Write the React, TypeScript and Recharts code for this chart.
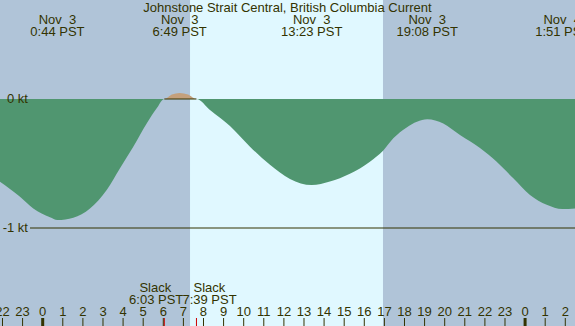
import React from 'react';
import { ComposedChart, Area, XAxis, YAxis, ReferenceArea, ReferenceLine } from 'recharts';

const TEXT = '#333300';
const FONT = '"Liberation Sans", Arial, sans-serif';
const FS = 13;

// hours relative to Nov 3 00:00 PST
const times = [-2.124, -1.129, -0.468, 0.363, 0.733, 1.522, 2.353, 3.184, 3.846, 4.507, 5.174, 5.672, 6.05, 6.43, 6.817, 7.23, 7.65, 8.323, 9.318, 10.313, 11.308, 12.303, 13.383, 14.289, 15.284, 16.279, 16.945, 17.443, 18.109, 19.133, 19.93, 20.761, 21.756, 22.587, 23.413, 24.244, 25.075, 25.85, 26.483];
const current = [-0.641, -0.757, -0.848, -0.917, -0.938, -0.92, -0.848, -0.705, -0.537, -0.37, -0.19, -0.072, 0, 0.035, 0.047, 0.035, 0, -0.085, -0.21, -0.37, -0.51, -0.62, -0.667, -0.64, -0.58, -0.486, -0.4, -0.305, -0.22, -0.157, -0.19, -0.28, -0.38, -0.486, -0.615, -0.744, -0.82, -0.853, -0.848];

const hourTicks = [-2, -1, 0, 1, 2, 3, 4, 5, 6, 7, 8, 9, 10, 11, 12, 13, 14, 15, 16, 17, 18, 19, 20, 21, 22, 23, 24, 25, 26];
const eventTimes = [0.733, 6.817, 13.383, 19.133, 25.85];
const eventDates = ['Nov  3', 'Nov  3', 'Nov  3', 'Nov  3', 'Nov  4'];
const eventLabels = ['0:44 PST', '6:49 PST', '13:23 PST', '19:08 PST', '1:51 PST'];
const slackTimes = [6.05, 7.65];
const slackLabels = ['6:03 PST', '7:39 PST'];
const sunrise = 7.33;
const sunset = 16.93;
const yTicks = [0, -1];
const yTickLabels = ['0 kt', '-1 kt'];

const data = times.map((t, i) => ({ t, ebb: Math.min(current[i], 0), flood: Math.max(current[i], 0) }));

const X_DOMAIN: [number, number] = [-2.124, 26.483];
const Y_DOMAIN: [number, number] = [-1.7597, 0.7674];

function HourTick(props: any) {
  const { x, payload } = props;
  const h = payload.value;
  const label = ((h % 24) + 24) % 24;
  return (
    <g>
      <text x={x} y={316} textAnchor="middle" fontSize={FS} fill={TEXT} fontFamily={FONT}>{label}</text>
      <line x1={x} x2={x} y1={318} y2={326} stroke={TEXT} strokeWidth={label === 0 ? 3 : 1} />
    </g>
  );
}

function TopTick(props: any) {
  const { x, index } = props;
  return (
    <g>
      <text x={x} y={24} textAnchor="middle" fontSize={FS} fill={TEXT} fontFamily={FONT} style={{ whiteSpace: 'pre' }}>{eventDates[index]}</text>
      <text x={x} y={36} textAnchor="middle" fontSize={FS} fill={TEXT} fontFamily={FONT}>{eventLabels[index]}</text>
    </g>
  );
}

function SlackTick(props: any) {
  const { x, index } = props;
  const first = index === 0;
  const tx = first ? x + 19 : x - 14;
  const anchor = first ? 'end' : 'start';
  const cx = first ? tx - 28 : tx + 27;
  return (
    <g>
      <text x={cx} y={292} textAnchor="middle" fontSize={FS} fill={TEXT} fontFamily={FONT}>Slack</text>
      <text x={tx} y={304} textAnchor={anchor} fontSize={FS} fill={TEXT} fontFamily={FONT}>{slackLabels[index]}</text>
      <line x1={x} x2={x} y1={318} y2={326} stroke="#cc0000" strokeWidth={1} />
    </g>
  );
}

function YTick(props: any) {
  const { y, index } = props;
  return (
    <g>
      <text x={28} y={y + 4.5} textAnchor="end" fontSize={FS} fill={TEXT} fontFamily={FONT}>{yTickLabels[index]}</text>
      {index === 1 ? <line x1={30} x2={575} y1={y} y2={y} stroke={TEXT} strokeWidth={1.2} /> : null}
    </g>
  );
}

export default function App() {
  return (
    <div style={{ position: 'absolute', left: 0, top: 0, width: 575, height: 326, background: '#b0c4d8', overflow: 'hidden' }}>
      <ComposedChart width={575} height={326} data={data} margin={{ top: -1, right: 0, bottom: -2, left: -1 }}>
        <XAxis dataKey="t" type="number" domain={X_DOMAIN} allowDataOverflow ticks={hourTicks} interval={0}
          height={1} axisLine={false} tickLine={false} tickSize={0} tick={(p: any) => <HourTick {...p} />} />
        <XAxis xAxisId="top" dataKey="t" orientation="top" type="number" domain={X_DOMAIN} allowDataOverflow ticks={eventTimes} interval={0}
          height={1} axisLine={false} tickLine={false} tickSize={0} tick={(p: any) => <TopTick {...p} />} />
        <XAxis xAxisId="slack" dataKey="t" type="number" domain={X_DOMAIN} allowDataOverflow ticks={slackTimes} interval={0}
          height={1} axisLine={false} tickLine={false} tickSize={0} tick={(p: any) => <SlackTick {...p} />} />
        <YAxis type="number" domain={Y_DOMAIN} allowDataOverflow ticks={yTicks} interval={0} width={1}
          axisLine={false} tickLine={false} tickSize={0} tick={(p: any) => <YTick {...p} />} />
        <ReferenceArea x1={sunrise} x2={sunset} fill="#e0f8ff" fillOpacity={1} stroke="none" />
        <Area type="monotone" dataKey="ebb" baseValue={0} stroke="none" fill="#509670" fillOpacity={1} dot={false} activeDot={false} isAnimationActive={false} />
        <Area type="monotone" dataKey="flood" baseValue={0} stroke="none" fill="#c4a07c" fillOpacity={1} dot={false} activeDot={false} isAnimationActive={false} />
        <ReferenceLine segment={[{ x: slackTimes[0], y: 0 }, { x: slackTimes[1], y: 0 }]} stroke={TEXT} strokeWidth={1.2} />
      </ComposedChart>
      <div style={{ position: 'absolute', left: 0, top: 0, width: 575, textAlign: 'center', fontFamily: FONT, fontSize: FS, lineHeight: '15px', color: TEXT }}>
        Johnstone Strait Central, British Columbia Current
      </div>
    </div>
  );
}
